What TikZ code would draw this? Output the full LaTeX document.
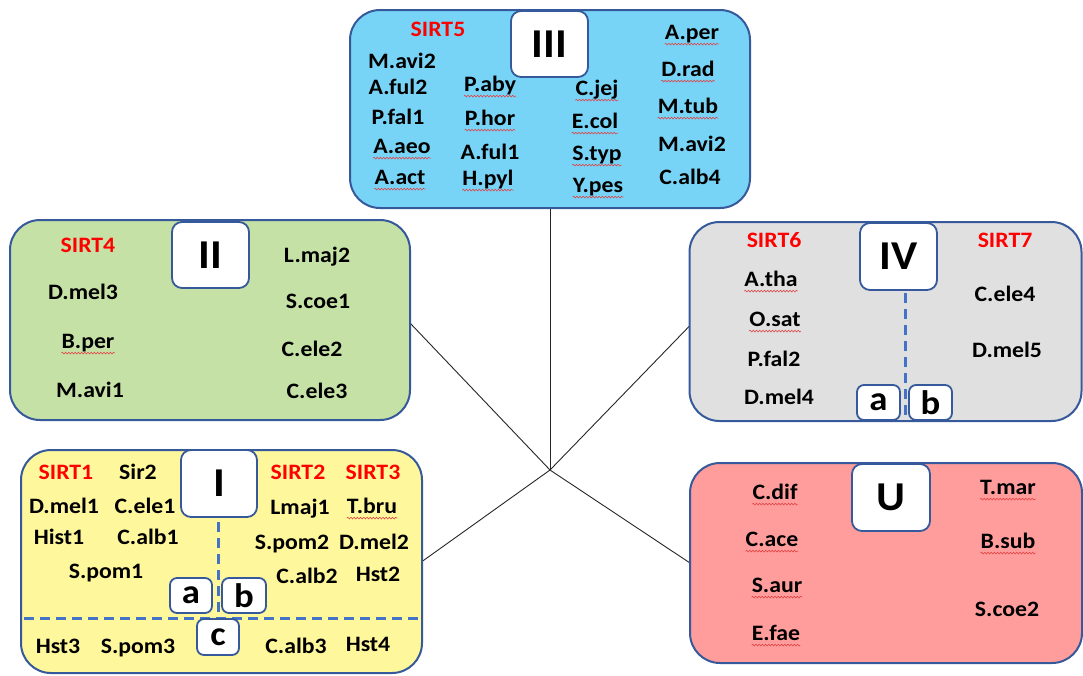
\documentclass[tikz,border=0pt]{standalone}
\usepackage{fontspec}
\setmainfont{Carlito}[FakeStretch=1.08]
\usetikzlibrary{decorations.pathmorphing,backgrounds}
\definecolor{rim}{HTML}{35599A}
\definecolor{divline}{HTML}{4472C4}
\definecolor{skyfill}{HTML}{78D4F6}
\definecolor{leaffill}{HTML}{C6E1A6}
\definecolor{greyfill}{HTML}{E0E0E0}
\definecolor{lemonfill}{HTML}{FFF79C}
\definecolor{rosefill}{HTML}{FF9C9C}
\definecolor{sirtred}{HTML}{FF0000}
\definecolor{spellred}{HTML}{E04040}
\tikzset{
  group/.style={draw=rim, line width=2pt, rounded corners=30pt, inner sep=0pt, outer sep=0pt},
  tag/.style={draw=rim, fill=white, line width=1.8pt, rounded corners=10pt, inner sep=0pt,
    minimum width=77pt, minimum height=66pt, font=\bfseries\fontsize{41}{44}\selectfont},
  subtag/.style={draw=rim, fill=white, line width=1.8pt, rounded corners=7pt, inner sep=0pt,
    minimum width=43pt, minimum height=35pt, font=\bfseries\fontsize{34}{36}\selectfont},
  sp/.style={inner sep=0pt, text height=13.8pt, text depth=0pt, font=\bfseries\fontsize{22}{24}\selectfont},
  sirt/.style={sp, text=sirtred},
  divider/.style={draw=divline, line width=3pt, dash pattern=on 10pt off 6pt},
  link/.style={draw=black!85, line width=0.9pt},
  squiggle/.style={draw=spellred, line width=0.55pt, decorate,
    decoration={snake, amplitude=0.9pt, segment length=3.2pt}}
}
\begin{document}
\begin{tikzpicture}[x=1pt, y=-1pt]
\useasboundingbox (0,0) rectangle (1083,675);

% ---- group boxes ----
\node[group, fill=skyfill,   minimum width=400pt, minimum height=198pt] (g3) at (550,109) {};
\node[group, fill=leaffill,  minimum width=400pt, minimum height=200pt] (g2) at (210,320) {};
\node[group, fill=greyfill,  minimum width=392pt, minimum height=199pt] (g4) at (885.5,321.5) {};
\node[group, fill=lemonfill, minimum width=401pt, minimum height=223pt] (g1) at (221.5,561.5) {};
\node[group, fill=rosefill,  minimum width=392pt, minimum height=200pt] (g5) at (886,563) {};

% ---- links from the central point ----
\coordinate (hub) at (550,470);
\begin{pgfonlayer}{background}
  \draw[link] (hub) -- (g3.south);
  \draw[link] (hub) -- ([yshift=-3pt]g2.east);
  \draw[link] (hub) -- ([yshift=-4.5pt]g4.west);
  \draw[link] (hub) -- (g1.east);
  \draw[link] (hub) -- (g5.west);
\end{pgfonlayer}

% ---- subgroup dividers ----
\coordinate (dIVtop) at (905,293);
\coordinate (dIVbot) at (905,421);
\draw[divider] (dIVtop) -- (dIVbot);
\coordinate (dItop) at (218,522);
\coordinate (dIbot) at (218,617);
\draw[divider] (dItop) -- (dIbot);
\coordinate (hIleft) at (24,618);
\coordinate (hIright) at (421,618);
\draw[divider] (hIleft) -- (hIright);

% ---- class tags ----
\node[tag] (l3) at (549.5,44) {III};
\node[tag] (l2) at (210.5,255) {II};
\node[tag, minimum height=67pt] (l4) at (898.5,256.5) {IV};
\node[tag, minimum width=76pt, minimum height=67pt] (l1) at (219,483.5) {I};
\node[tag, minimum width=78pt, minimum height=67pt] (l5) at (891,497.5) {U};

\node[subtag] (l4a) at (878.5,402.5) {a};
\node[subtag] (l4b) at (930.5,402.5) {b};
\node[subtag, minimum width=42pt] (l1a) at (191,595.5) {a};
\node[subtag, minimum width=44pt] (l1b) at (244,595.5) {b};
\node[subtag, minimum width=42pt, minimum height=36pt] (l1c) at (218,637) {c};

% ---- class III ----
\node[sirt] (sirt5) at (438,30) {SIRT5};
\node[sp] (mavi2a) at (402,62) {M.avi2};
\node[sp] (aful2) at (398,88) {A.ful2};
\node[sp] (pfal1) at (398,118) {P.fal1};
\node[sp] (aaeo) at (402,147) {A.aeo};
\node[sp] (aact) at (400,178) {A.act};
\node[sp] (paby) at (490,85) {P.aby};
\node[sp] (phor) at (490,119) {P.hor};
\node[sp] (aful1) at (490,153) {A.ful1};
\node[sp] (hpyl) at (488,179) {H.pyl};
\node[sp] (cjej) at (597,89) {C.jej};
\node[sp] (ecol) at (595,122) {E.col};
\node[sp] (styp) at (597,154) {S.typ};
\node[sp] (ypes) at (598,186) {Y.pes};
\node[sp] (aper) at (692,33) {A.per};
\node[sp] (drad) at (688,70) {D.rad};
\node[sp] (mtub) at (688,107) {M.tub};
\node[sp] (mavi2b) at (692,145) {M.avi2};
\node[sp] (calb4) at (690,178) {C.alb4};

% ---- class II ----
\node[sirt] (sirt4) at (88,246) {SIRT4};
\node[sp] (dmel3) at (83,293) {D.mel3};
\node[sp] (bper) at (88,342) {B.per};
\node[sp] (mavi1) at (90,391) {M.avi1};
\node[sp] (lmaj2) at (317,256) {L.maj2};
\node[sp] (scoe1) at (318,302) {S.coe1};
\node[sp] (cele2) at (312,350) {C.ele2};
\node[sp] (cele3) at (317,392) {C.ele3};

% ---- class IV ----
\node[sirt] (sirt6) at (774,241) {SIRT6};
\node[sirt] (sirt7) at (1005,241) {SIRT7};
\node[sp] (atha) at (771,280) {A.tha};
\node[sp] (osat) at (775,320) {O.sat};
\node[sp] (pfal2) at (774,360) {P.fal2};
\node[sp] (dmel4) at (779,398) {D.mel4};
\node[sp] (cele4) at (1005,295) {C.ele4};
\node[sp] (dmel5) at (1007,351) {D.mel5};

% ---- class I ----
\node[sirt] (sirt1) at (66,473) {SIRT1};
\node[sp] (sir2) at (138,473) {Sir2};
\node[sp] (dmel1) at (64,507) {D.mel1};
\node[sp] (cele1) at (145,507) {C.ele1};
\node[sp] (hist1) at (59,538) {Hist1};
\node[sp] (calb1) at (148,538) {C.alb1};
\node[sp] (spom1) at (106,572) {S.pom1};
\node[sirt] (sirt2) at (298,473) {SIRT2};
\node[sirt] (sirt3) at (373,473) {SIRT3};
\node[sp] (lmaj1) at (300,508) {Lmaj1};
\node[sp] (tbru) at (372,507) {T.bru};
\node[sp] (spom2) at (292,543) {S.pom2};
\node[sp] (dmel2) at (374,543) {D.mel2};
\node[sp] (calb2) at (307,577) {C.alb2};
\node[sp] (hst2) at (378,575) {Hst2};
\node[sp] (hst3) at (58,647) {Hst3};
\node[sp] (spom3) at (138,647) {S.pom3};
\node[sp] (calb3) at (296,647) {C.alb3};
\node[sp] (hst4) at (368,645) {Hst4};

% ---- class U ----
\node[sp] (cdif) at (775,493) {C.dif};
\node[sp] (cace) at (772,540) {C.ace};
\node[sp] (saur) at (777,586) {S.aur};
\node[sp] (efae) at (776,634) {E.fae};
\node[sp] (tmar) at (1008,488) {T.mar};
\node[sp] (bsub) at (1008,542) {B.sub};
\node[sp] (scoe2) at (1007,610) {S.coe2};

% ---- spell-check squiggles under flagged names ----
\foreach \n in {aaeo,aact,paby,phor,hpyl,cjej,ecol,styp,ypes,aper,drad,mtub,
                bper,atha,osat,tbru,cdif,cace,saur,efae,tmar,bsub}
  \draw[squiggle] ([yshift=-4pt]\n.south west) -- ([yshift=-4pt]\n.south east);
\end{tikzpicture}
\end{document}
